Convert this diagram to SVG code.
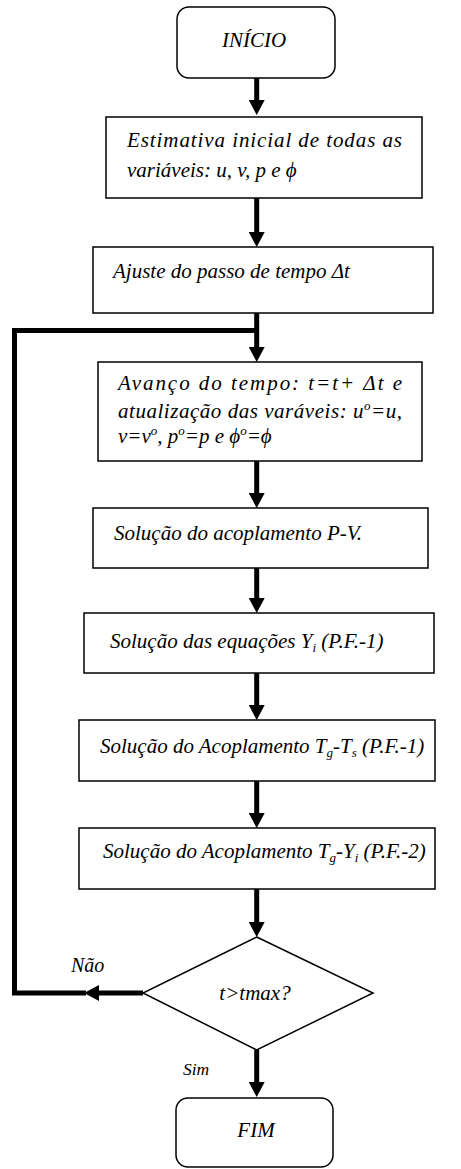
<svg xmlns="http://www.w3.org/2000/svg" width="461" height="1169" viewBox="0 0 461 1169">
<defs>
<style>
.box{fill:#fff;stroke:#000;stroke-width:1.5}
.c{stroke:#000;stroke-width:5;fill:none}
</style>
<marker id="ah" viewBox="0 0 15 16" refX="1" refY="8" markerWidth="15" markerHeight="16" markerUnits="userSpaceOnUse" orient="auto">
<path d="M0,0 L15,8 L0,16 z" fill="#000"/>
</marker>
</defs>
<rect width="461" height="1169" fill="#fff"/>
<g id="connectors">
<line class="c" x1="256.7" y1="78" x2="256.7" y2="101" marker-end="url(#ah)"/>
<line class="c" x1="256.7" y1="198" x2="256.7" y2="233" marker-end="url(#ah)"/>
<line class="c" x1="256.7" y1="313" x2="256.7" y2="348" marker-end="url(#ah)"/>
<line class="c" x1="256.7" y1="461" x2="256.7" y2="494" marker-end="url(#ah)"/>
<line class="c" x1="256.7" y1="568" x2="256.7" y2="599" marker-end="url(#ah)"/>
<line class="c" x1="256.7" y1="673" x2="256.7" y2="706" marker-end="url(#ah)"/>
<line class="c" x1="256.7" y1="781" x2="256.7" y2="814" marker-end="url(#ah)"/>
<line class="c" x1="256.7" y1="889" x2="256.7" y2="923" marker-end="url(#ah)"/>
<line class="c" x1="256.7" y1="1050" x2="256.7" y2="1083" marker-end="url(#ah)"/>
<line class="c" x1="143" y1="993" x2="98" y2="993" marker-end="url(#ah)"/>
<path class="c" d="M86,993 H14.5 V330.5 H256.7" stroke-linejoin="miter"/>
<text font-family="Liberation Serif" font-style="italic" font-size="20" x="71" y="972">Não</text>
<text font-family="Liberation Serif" font-style="italic" font-size="17.5" x="183" y="1075">Sim</text>
</g>
<g id="inicio">
<rect class="box" x="177" y="7" width="158" height="71" rx="12"/>
<text font-family="Liberation Serif" font-style="italic" font-size="21" x="254" y="47" text-anchor="middle">INÍCIO</text>
</g>
<g id="estimativa">
<rect class="box" x="106" y="117" width="316" height="81"/>
<text font-family="Liberation Serif" font-style="italic" font-size="21" x="127" y="147" textLength="275" lengthAdjust="spacing">Estimativa inicial de todas as</text>
<text font-family="Liberation Serif" font-style="italic" font-size="21" x="127" y="177">variáveis: u, v, p e ϕ</text>
</g>
<g id="ajuste">
<rect class="box" x="93" y="247" width="340" height="66"/>
<text font-family="Liberation Serif" font-style="italic" font-size="21" x="113" y="278">Ajuste do passo de tempo Δt</text>
</g>
<g id="avanco">
<rect class="box" x="98" y="362" width="324" height="99"/>
<text font-family="Liberation Serif" font-style="italic" font-size="21" x="118" y="390" textLength="284" lengthAdjust="spacing">Avanço do tempo: t=t+ Δt e</text>
<text font-family="Liberation Serif" font-style="italic" font-size="21" x="118" y="418" textLength="284" lengthAdjust="spacing">atualização das varáveis: u<tspan font-size="13" dy="-8">o</tspan><tspan dy="8">=u,</tspan></text>
<text font-family="Liberation Serif" font-style="italic" font-size="21" x="118" y="443">v=v<tspan font-size="13" dy="-8">o</tspan><tspan dy="8">, p</tspan><tspan font-size="13" dy="-8">o</tspan><tspan dy="8">=p e ϕ</tspan><tspan font-size="13" dy="-8">o</tspan><tspan dy="8">=ϕ</tspan></text>
</g>
<g id="pv">
<rect class="box" x="93" y="508" width="335" height="60"/>
<text font-family="Liberation Serif" font-style="italic" font-size="21" x="114" y="540">Solução do acoplamento P-V.</text>
</g>
<g id="yi">
<rect class="box" x="84" y="613" width="350" height="60"/>
<text font-family="Liberation Serif" font-style="italic" font-size="21" x="110" y="648">Solução das equações Y<tspan font-size="13" dy="4">i</tspan><tspan dy="-4"> (P.F.-1)</tspan></text>
</g>
<g id="tgts">
<rect class="box" x="79" y="720" width="356" height="61"/>
<text font-family="Liberation Serif" font-style="italic" font-size="21" x="100" y="753">Solução do Acoplamento T<tspan font-size="13" dy="4">g</tspan><tspan dy="-4">-T</tspan><tspan font-size="13" dy="4">s</tspan><tspan dy="-4"> (P.F.-1)</tspan></text>
</g>
<g id="tgyi">
<rect class="box" x="79" y="828" width="356" height="61"/>
<text font-family="Liberation Serif" font-style="italic" font-size="21" x="103" y="858">Solução do Acoplamento T<tspan font-size="13" dy="4">g</tspan><tspan dy="-4">-Y</tspan><tspan font-size="13" dy="4">i</tspan><tspan dy="-4"> (P.F.-2)</tspan></text>
</g>
<g id="decisao">
<polygon class="box" points="256.7,937 373,993 256.7,1050 143,993"/>
<text font-family="Liberation Serif" font-style="italic" font-size="21" x="255" y="1000" text-anchor="middle">t&gt;tmax?</text>
</g>
<g id="fim">
<rect class="box" x="176" y="1098" width="157" height="69" rx="12"/>
<text font-family="Liberation Serif" font-style="italic" font-size="21" x="256" y="1137" text-anchor="middle">FIM</text>
</g>
</svg>
